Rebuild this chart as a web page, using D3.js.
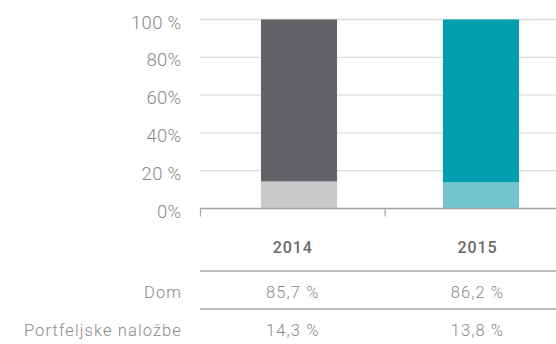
<!DOCTYPE html>
<html>
<head>
<meta charset="utf-8">
<script src="https://cdn.jsdelivr.net/npm/d3@7"></script>
<style>
  html, body { margin: 0; padding: 0; background: #fff; }
  svg { display: block; }
  text { font-family: Roboto, "Liberation Sans", sans-serif; }
</style>
</head>
<body>
<svg id="chart" width="556" height="344"></svg>
<script>
// Categories and series (shares in %)
const years = ["2014", "2015"];
const domValues = [85.7, 86.2];
const portfolioValues = [14.3, 13.8];
const seriesNames = ["Dom", "Portfeljske naložbe"];
const yTickValues = [0, 20, 40, 60, 80, 100];
const yTickLabels = ["0%", "20 %", "40%", "60%", "80%", "100 %"];
const domLabels = ["85,7 %", "86,2 %"];
const portfolioLabels = ["14,3 %", "13,8 %"];

const topColors = ["#626366", "#009eae"];
const bottomColors = ["#cac8c9", "#72c5cf"];

const svg = d3.select("#chart");

const y = d3.scaleLinear().domain([0, 100]).range([208.5, 19.5]);

// Column scale for axis ticks and the table below
const xCol = d3.scaleBand().domain(years).range([200.5, 569.7]);
// Bar placement
const xBar = d3.scaleBand().domain(years).range([208, 572])
  .paddingInner(0.582).paddingOuter(0.291);

// Gridlines
svg.append("g")
  .selectAll("line")
  .data(yTickValues.filter(v => v > 0))
  .join("line")
  .attr("x1", 200).attr("x2", 556)
  .attr("y1", d => y(d)).attr("y2", d => y(d))
  .attr("stroke", "#dcdcdc").attr("stroke-width", 1.3);

// Y labels
svg.append("g")
  .selectAll("text")
  .data(yTickValues)
  .join("text")
  .attr("x", 181.5)
  .attr("y", d => y(d) + 9)
  .attr("text-anchor", "end")
  .attr("font-size", 18.5)
  .attr("font-weight", 300)
  .attr("letter-spacing", 0.3)
  .attr("fill", "#8a8a8a")
  .text((d, i) => yTickLabels[i]);

// Stacked bars
const stackData = years.map((yr, i) => ({ year: yr, i, portfolio: portfolioValues[i], dom: domValues[i] }));
const stack = d3.stack().keys(["portfolio", "dom"])(stackData);

svg.append("g")
  .selectAll("g")
  .data(stack)
  .join("g")
  .selectAll("rect")
  .data(d => d.map(s => ({ s, key: d.key })))
  .join("rect")
  .attr("x", d => xBar(d.s.data.year))
  .attr("width", xBar.bandwidth())
  .attr("y", d => y(d.s[1]))
  .attr("height", d => y(d.s[0]) - y(d.s[1]))
  .attr("fill", d => d.key === "dom" ? topColors[d.s.data.i] : bottomColors[d.s.data.i]);

// X axis baseline and ticks
const axis = d3.axisBottom(xCol).tickSize(0).tickFormat("");
const gAxis = svg.append("g").attr("transform", "translate(0,208.5)").call(axis);
gAxis.select(".domain").remove();
gAxis.append("line").attr("x1", 200).attr("x2", 556).attr("y1", 0).attr("y2", 0)
  .attr("stroke", "#a3a3a3").attr("stroke-width", 1.3);
gAxis.selectAll(".tickmark")
  .data(years)
  .join("line")
  .attr("class", "tickmark")
  .attr("x1", d => xCol(d)).attr("x2", d => xCol(d))
  .attr("y1", 0).attr("y2", 8)
  .attr("stroke", "#a3a3a3").attr("stroke-width", 1.2);

// Table below the chart
const colCenter = d => xCol(d) + xCol.bandwidth() / 2;

svg.append("g")
  .selectAll("text")
  .data(years)
  .join("text")
  .attr("x", colCenter)
  .attr("y", 252.5)
  .attr("text-anchor", "middle")
  .attr("font-size", 16)
  .attr("font-weight", 500)
  .attr("letter-spacing", 0.9)
  .attr("fill", "#6a6a6a")
  .text(d => d);

[271, 309].forEach(ly => {
  svg.append("line")
    .attr("x1", 200).attr("x2", 556)
    .attr("y1", ly).attr("y2", ly)
    .attr("stroke", "#a8a8a8").attr("stroke-width", 1.3);
});

const rows = [
  { name: seriesNames[0], labels: domLabels, base: 298 },
  { name: seriesNames[1], labels: portfolioLabels, base: 335.5 }
];

rows.forEach(r => {
  svg.append("text")
    .attr("x", 182)
    .attr("y", r.base)
    .attr("text-anchor", "end")
    .attr("font-size", 16.5)
    .attr("font-weight", 300)
    .attr("letter-spacing", 1.1)
    .attr("fill", "#8a8a8a")
    .text(r.name);
  svg.append("g")
    .selectAll("text")
    .data(years)
    .join("text")
    .attr("x", colCenter)
    .attr("y", r.base)
    .attr("text-anchor", "middle")
    .attr("font-size", 16.5)
    .attr("font-weight", 300)
    .attr("letter-spacing", 1.1)
    .attr("fill", "#8a8a8a")
    .text((d, i) => r.labels[i]);
});
</script>
</body>
</html>
